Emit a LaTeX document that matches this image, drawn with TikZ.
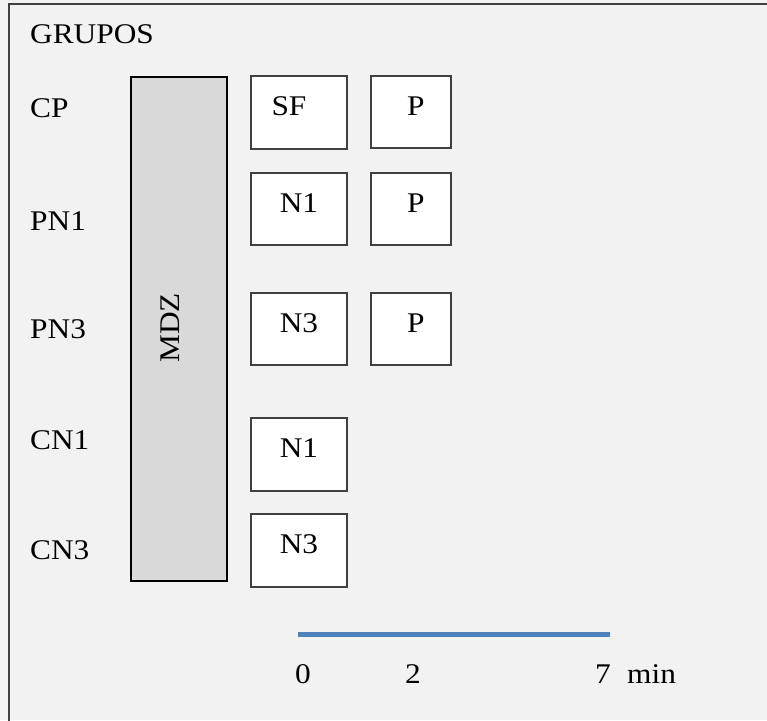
\documentclass[tikz,border=0pt]{standalone}
\usepackage{fontspec}
\setmainfont{Liberation Serif}[FakeStretch=1.1]
\usetikzlibrary{positioning,shadows}

\definecolor{panel}{HTML}{F2F2F2}
\definecolor{frame}{HTML}{404040}
\definecolor{mdzgray}{HTML}{D9D9D9}
\definecolor{timeblue}{HTML}{4F81BD}

\tikzset{
  lbl/.style={font=\fontsize{28.5}{30}\selectfont, inner sep=0pt, anchor=base west},
  num/.style={font=\fontsize{28.5}{30}\selectfont, inner sep=0pt, anchor=base},
  slot/.style={draw=frame, line width=1.9pt, fill=white, anchor=north west, inner sep=0pt},
}

\begin{document}
\begin{tikzpicture}[x=1pt,y=-1pt]
\useasboundingbox (0,0) rectangle (767,720);

% panel
\fill[panel] (0,0) rectangle (767,720);
\draw[frame, line width=2pt] (9,4) rectangle (775,730);

% group names
\node[lbl] (grupos) at (30,43) {GRUPOS};
\node[lbl] (cp)  at (30,117) {CP};
\node[lbl] (pn1) at (30,230) {PN1};
\node[lbl] (pn3) at (30,338) {PN3};
\node[lbl] (cn1) at (30,449) {CN1};
\node[lbl] (cn3) at (30,559) {CN3};

% the long MDZ bar
\node[draw=black, line width=2pt, fill=mdzgray, anchor=north west, inner sep=0pt,
      minimum width=96pt, minimum height=504pt] (mdz) at (130,76) {};
\node[num, anchor=center, rotate=90] (mdztxt) at (170,328) {MDZ};

% first column of boxes
\node[slot, minimum width=96pt, minimum height=73pt] (sf)  at (250,75)  {};
\node[slot, minimum width=96pt, minimum height=72pt] (n1a) at (250,172) {};
\node[slot, minimum width=96pt, minimum height=72pt] (n3a) at (250,292) {};
\node[slot, minimum width=96pt, minimum height=73pt] (n1b) at (250,417) {};
\node[slot, minimum width=96pt, minimum height=73pt] (n3b) at (250,513) {};

% second column of boxes
\foreach \y/\n in {75/pa,172/pb,292/pc}{
	\node[slot, minimum width=80pt, minimum height=72pt] (\n) at (370,\y) {};
}

% box texts
\node[num] (sftxt)  at ([xshift=-10pt,yshift=-40pt]sf.north)  {SF};
\node[num] (n1atxt) at ([yshift=-40pt]n1a.north) {N1};
\node[num] (n3atxt) at ([yshift=-40pt]n3a.north) {N3};
\node[num] (n1btxt) at ([yshift=-40pt]n1b.north) {N1};
\node[num] (n3btxt) at ([yshift=-40pt]n3b.north) {N3};
\foreach \n in {pa,pb,pc}{
	\node[num] (\n txt) at ([xshift=5pt,yshift=-40pt]\n.north) {P};
}

% time axis
\coordinate (t0) at (298,634);
\coordinate (t7) at (610,634);
\draw[line width=5pt, timeblue, drop shadow={shadow xshift=1pt, shadow yshift=-2pt, opacity=0.25}] (t0) -- (t7);
\node[num] (l0) at (303,683) {0};
\node[num] (l2) at (413,683) {2};
\node[num] (l7) at (603,683) {7};
\node[lbl] (lmin) at (627,683) {min};
\end{tikzpicture}
\end{document}
